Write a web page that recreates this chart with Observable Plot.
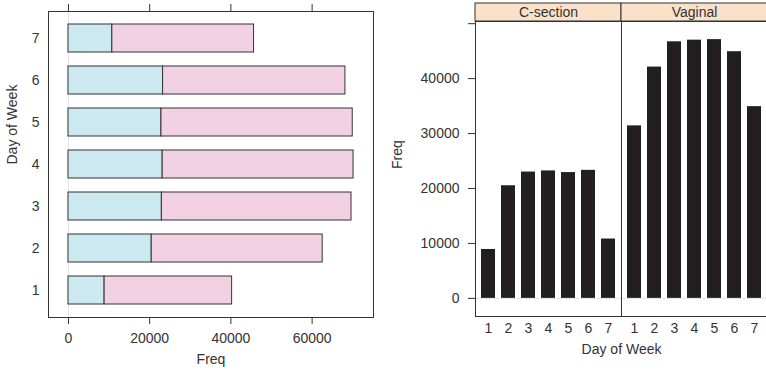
<!DOCTYPE html>
<html>
<head>
<meta charset="utf-8">
<script src="https://cdn.jsdelivr.net/npm/d3@7"></script>
<script src="https://cdn.jsdelivr.net/npm/@observablehq/plot@0.6"></script>
<style>
  html, body { margin: 0; padding: 0; background: #fff; }
  #wrap { position: relative; width: 766px; height: 373px; overflow: hidden; background: #fff; }
  #wrap > svg, #wrap > figure { position: absolute; margin: 0; }
</style>
</head>
<body>
<div id="wrap"></div>
<script>
const days = ["1", "2", "3", "4", "5", "6", "7"];
const methods = ["C-section", "Vaginal"];
const csection = [8900, 20500, 23000, 23200, 22900, 23300, 10800];
const vaginal = [31400, 42100, 46700, 47000, 47100, 44900, 34900];
const freqTicksLeft = [0, 20000, 40000, 60000];
const freqTicksRight = [0, 10000, 20000, 30000, 40000, 50000];
const freqLabelsRight = [0, 10000, 20000, 30000, 40000];
const fillColors = ["#cce9f2", "#f2d1e2"];
const stripColor = "#f9e2c9";
const barColor = "#231f20";
const ink = "#333333";

const rows = [
  ...days.map((d, i) => ({day: d, method: methods[0], freq: csection[i]})),
  ...days.map((d, i) => ({day: d, method: methods[1], freq: vaginal[i]}))
];

const font = {fontFamily: "'Liberation Sans', Arial, Helvetica, sans-serif", fontSize: "14px", color: ink, background: "transparent", overflow: "visible"};
const wrap = document.getElementById("wrap");

// ---- Left: stacked horizontal bars ----
const maxTotal = d3.max(days, (d, i) => csection[i] + vaginal[i]);
const left = Plot.plot({
  width: 390, height: 373,
  marginLeft: 48, marginRight: 17, marginTop: 11, marginBottom: 56,
  style: font,
  x: {domain: [-0.07 * maxTotal, 1.07 * maxTotal]},
  y: {type: "band", domain: days.slice().reverse(), paddingInner: 0.33, paddingOuter: 0.265},
  color: {domain: methods, range: fillColors},
  marks: [
    Plot.ruleX([0], {stroke: "#e4e4e4"}),
    Plot.barX(rows, {y: "day", x: "freq", fill: "method", stroke: ink, strokeWidth: 1}),
    Plot.frame({stroke: ink}),
    Plot.axisX({anchor: "bottom", ticks: freqTicksLeft, tickSize: 7, tickPadding: 9, tickFormat: "d", label: null}),
    Plot.axisX({anchor: "top", ticks: freqTicksLeft, tickSize: 8, tickFormat: () => "", label: null}),
    Plot.axisY({tickSize: 0, tickPadding: 9, label: null}),
    Plot.text(["Freq"], {text: d => d, frameAnchor: "bottom", dy: 46, fill: ink}),
    Plot.text(["Day of Week"], {text: d => d, frameAnchor: "left", rotate: -90, dx: -36, fill: ink})
  ]
});
left.style.left = "0px"; left.style.top = "0px";
wrap.appendChild(left);

// ---- Right: faceted vertical bars ----
const maxV = d3.max(rows, d => d.freq);
const right = Plot.plot({
  width: 378, height: 373,
  marginLeft: 85, marginRight: 1, marginTop: 21, marginBottom: 57,
  style: font,
  fx: {domain: methods, padding: 0, axis: null},
  x: {domain: days, paddingInner: 0.286, paddingOuter: 0.238},
  y: {domain: [-0.07 * maxV, 1.07 * maxV]},
  marks: [
    Plot.ruleY([0], {stroke: "#e4e4e4"}),
    Plot.barY(rows, {fx: "method", x: "day", y: "freq", fill: barColor}),
    Plot.frame({stroke: ink}),
    Plot.axisY({ticks: freqTicksRight, tickSize: 7, tickPadding: 9,
      tickFormat: d => freqLabelsRight.includes(d) ? d3.format("d")(d) : "", label: null}),
    Plot.axisX({tickSize: 0, tickPadding: 7, label: null}),
    Plot.text(["Freq"], {fx: () => methods[0], text: d => d, frameAnchor: "left", rotate: -90, dx: -78, fill: ink}),
    Plot.text(["Day of Week"], {fx: () => methods[0], text: d => d, frameAnchor: "bottom-right", textAnchor: "middle", dy: 37, fill: ink})
  ]
});
right.style.left = "390px"; right.style.top = "0px";
wrap.appendChild(right);

// ---- Right: strip labels ----
const strip = Plot.plot({
  width: 378, height: 18,
  marginLeft: 85, marginRight: 1, marginTop: 0, marginBottom: 0,
  style: font,
  x: {domain: methods, padding: 0, axis: null},
  marks: [
    Plot.cell(methods, {x: d => d, fill: stripColor, stroke: ink}),
    Plot.text(methods, {x: d => d, text: d => d, fill: ink})
  ]
});
strip.style.left = "390px"; strip.style.top = "3px";
wrap.appendChild(strip);
</script>
</body>
</html>
